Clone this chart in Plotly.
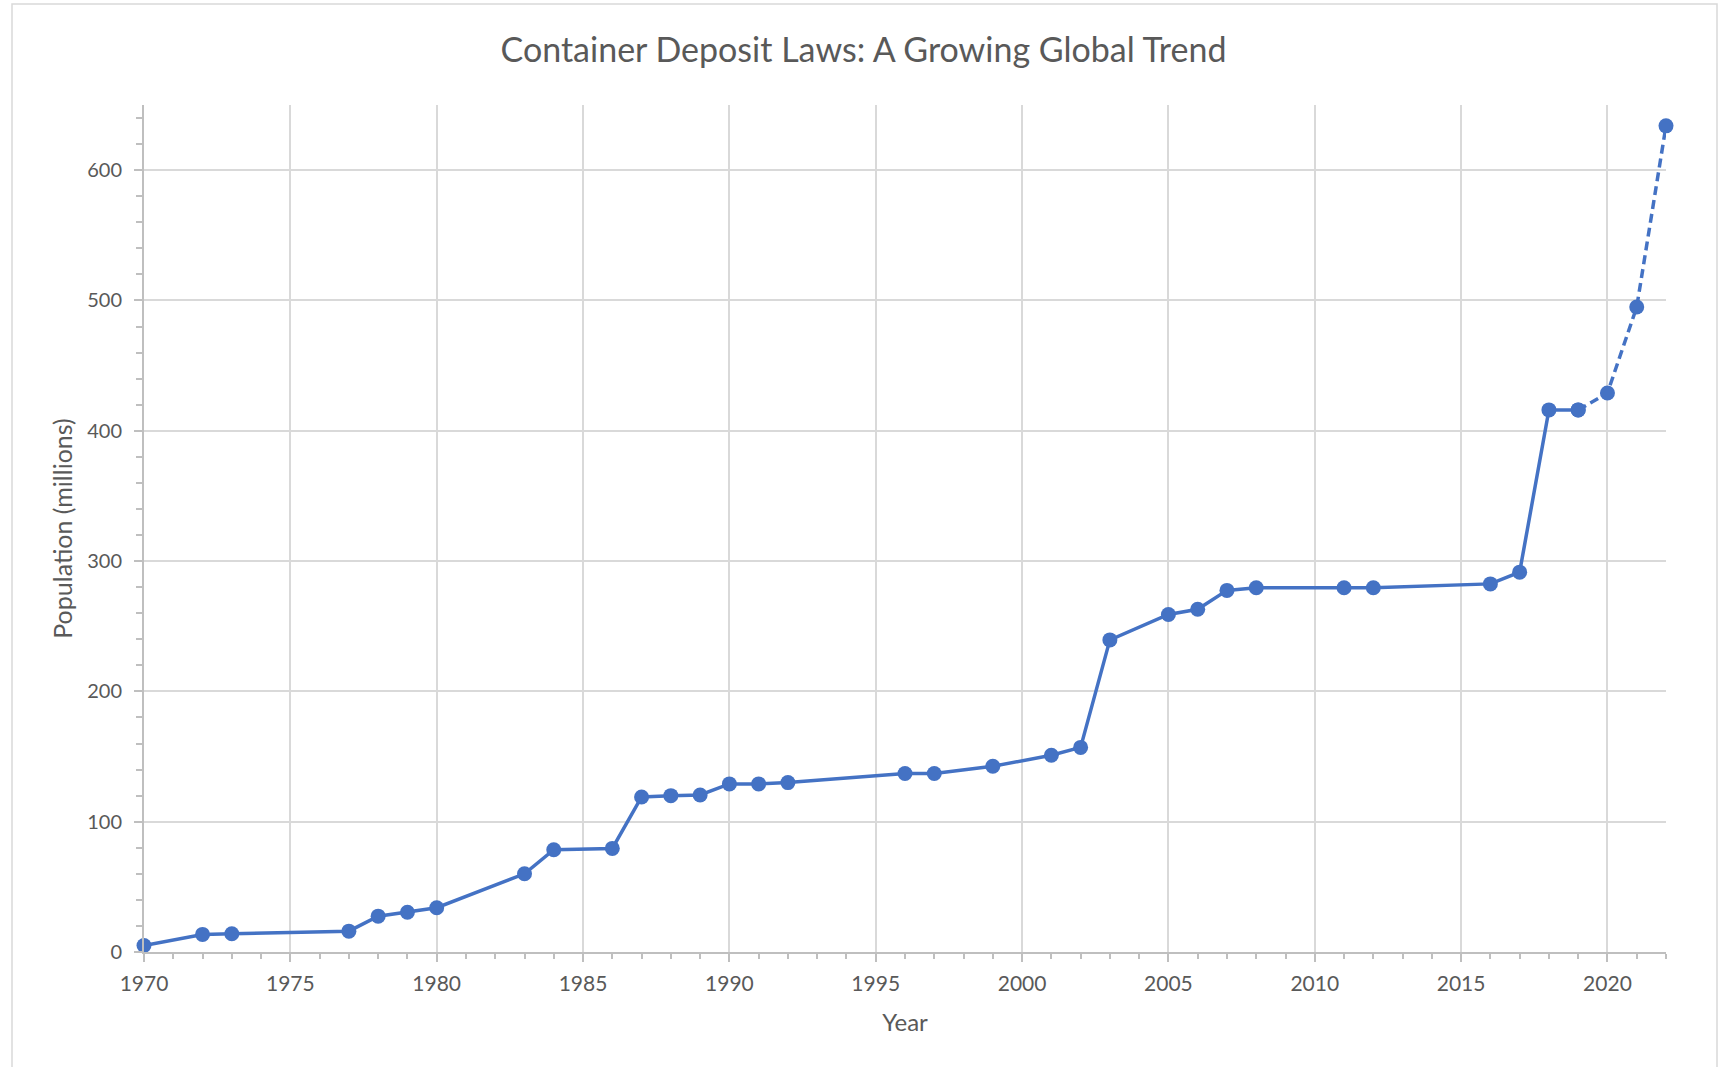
import plotly.graph_objects as go

years = [1970, 1972, 1973, 1977, 1978, 1979, 1980, 1983, 1984, 1986,
         1987, 1988, 1989, 1990, 1991, 1992, 1996, 1997, 1999, 2001,
         2002, 2003, 2005, 2006, 2007, 2008, 2011, 2012, 2016, 2017,
         2018, 2019, 2020, 2021, 2022]
population = [5, 13.5, 14, 16, 27.5, 30.5, 34, 60, 78.5, 79.5,
              119, 120, 120.5, 129, 129, 130, 137, 137, 142.5, 151,
              157, 239.5, 259, 263, 277.5, 279.5, 279.5, 279.5, 282.5, 291.5,
              416, 416, 429, 495, 634]
projection_start = 2019

title_text = "Container Deposit Laws: A Growing Global Trend"
x_title = "Year"
y_title = "Population (millions)"

BLUE = "#4472C4"
TEXT = "#595959"
GRID = "#D9D9D9"
AXIS = "#BFBFBF"
FONT = "Lato"

W, H = 1727, 1067
L, R, T, B = 144, 61, 105, 115

solid_x = [y for y in years if y <= projection_start]
solid_y = [p for y, p in zip(years, population) if y <= projection_start]
dash_x = [y for y in years if y >= projection_start]
dash_y = [p for y, p in zip(years, population) if y >= projection_start]

fig = go.Figure()
fig.add_trace(go.Scatter(
    x=solid_x, y=solid_y, mode="lines+markers",
    line=dict(color=BLUE, width=3.5),
    marker=dict(color=BLUE, size=15),
    showlegend=False, cliponaxis=False,
))
fig.add_trace(go.Scatter(
    x=dash_x, y=dash_y, mode="lines+markers",
    line=dict(color=BLUE, width=3.5, dash="9px,5px"),
    marker=dict(color=BLUE, size=15),
    showlegend=False, cliponaxis=False,
))

pw = W - L - R
ph = H - T - B
def px2paper_x(px):
    return (px - L) / pw
def px2paper_y(py):
    return (H - B - py) / ph

fig.add_shape(type="rect", xref="paper", yref="paper",
              x0=px2paper_x(12), x1=px2paper_x(1717),
              y0=px2paper_y(1080), y1=px2paper_y(4),
              line=dict(color=GRID, width=1.5), layer="below")

fig.update_layout(
    width=W, height=H,
    margin=dict(l=L, r=R, t=T, b=B),
    paper_bgcolor="white", plot_bgcolor="white",
    font=dict(family=FONT, color=TEXT),
    title=dict(text=title_text, x=0.5, xref="container", xanchor="center",
               y=1 - 50 / H, yref="container", yanchor="middle",
               font=dict(size=34, color=TEXT, family=FONT)),
    xaxis=dict(
        range=[1970, 2022], tick0=1970, dtick=5,
        showgrid=True, gridcolor=GRID, gridwidth=1.5,
        showline=True, linecolor=AXIS, linewidth=2,
        ticks="outside", ticklen=8, tickcolor=AXIS, tickwidth=1.5,
        ticklabelstandoff=4,
        tickfont=dict(size=21, color=TEXT, family=FONT),
        minor=dict(dtick=1, ticks="outside", ticklen=5, tickcolor=AXIS, tickwidth=1.5, showgrid=False),
        zeroline=False,
        title=dict(text=x_title, font=dict(size=24, color=TEXT, family=FONT), standoff=20),
    ),
    yaxis=dict(
        range=[0, 650], tick0=0, dtick=100,
        showgrid=True, gridcolor=GRID, gridwidth=1.5,
        showline=True, linecolor=AXIS, linewidth=2,
        ticks="outside", ticklen=8, tickcolor=AXIS, tickwidth=1.5,
        ticklabelstandoff=8,
        tickfont=dict(size=20, color=TEXT, family=FONT),
        minor=dict(dtick=20, ticks="outside", ticklen=6, tickcolor=AXIS, tickwidth=1.5, showgrid=False),
        zeroline=False,
        title=dict(text=y_title, font=dict(size=25, color=TEXT, family=FONT), standoff=7),
    ),
)

fig.write_html("out.html", config={"displayModeBar": False},
               post_script="document.body.style.margin='0';")
